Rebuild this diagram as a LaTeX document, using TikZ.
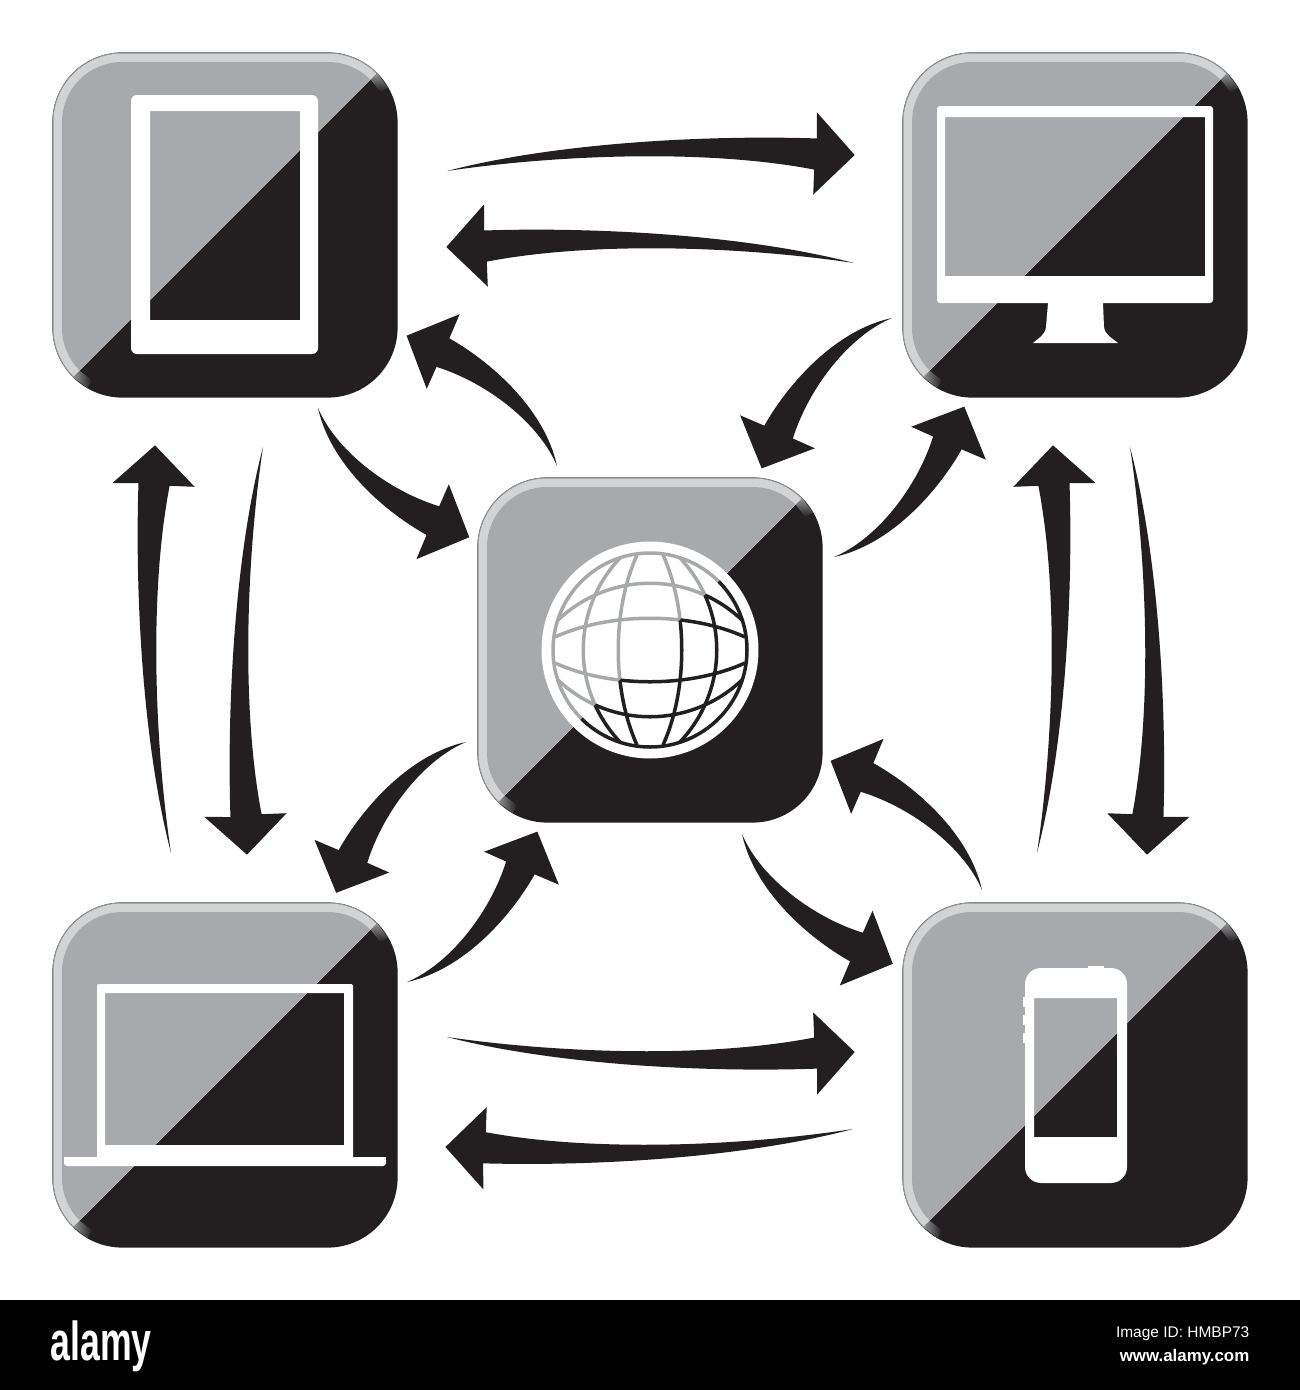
\documentclass[tikz,border=0pt]{standalone}
\usepackage{fontspec}
\setmainfont{Liberation Sans}
\usetikzlibrary{calc}
\definecolor{iconblack}{HTML}{231F20}
\definecolor{icongrey}{HTML}{A7A9AC}
\definecolor{iconrim}{HTML}{D1D3D4}
\definecolor{iconline}{HTML}{939598}
\tikzset{
	iconbox/.style={rectangle,rounded corners=0.7cm,minimum size=3.45cm,inner sep=0pt,outer sep=0pt,fill=iconblack,
		path picture={
			\begin{scope}[shift={(path picture bounding box.center)},sharp corners]
				\shade[top color=iconline,bottom color=iconblack] (145.6,-145.6)--(152,-152)--(163,-137.5)--(155.3,-133)--cycle;
				\shade[left color=iconline,right color=iconblack] (-145.6,145.6)--(-152,152)--(-137.5,163)--(-133,155.3)--cycle;
				\clip (-200,-200)--(200,-200)--(-200,200)--cycle;
				\fill[iconline] (-200,-200) rectangle (200,200);
				\fill[iconrim,rounded corners=0.69cm] (-171.5,-171.5) rectangle (171.5,171.5);
				\fill[icongrey,rounded corners=0.6cm] (-163,-163) rectangle (163,163);
			\end{scope}
		}},
	device/.style={fill=white,even odd rule},
	longswoosh/.pic={
		\fill[iconblack] (0,0) .. controls (110,24) and (260,26) .. (371,18) -- (372,44) -- (408,0) -- (365,-38) -- (367,-13) .. controls (260,12) and (110,12) .. cycle;
	},
	shortswoosh/.pic={
		\fill[iconblack] (0,0) .. controls (45,34) and (115,36) .. (165,26) -- (173,51) -- (199,0) -- (149,-27) -- (156,-4) .. controls (105,18) and (40,20) .. cycle;
	}
}
\newcommand{\swoosh}[6]{
	\coordinate (swooshfrom) at ($(#3)+(#4)$);
	\coordinate (swooshto) at ($(#5)+(#6)$);
	\path let \p1=($(swooshto)-(swooshfrom)$), \n1={atan2(\y1,\x1)} in
		pic[rotate=\n1,yscale=#2] at (swooshfrom) {#1};
}
\newcommand{\globegrid}{
	\draw (0,0) circle (97);
	\foreach \e/\f/\c in {13/95/38,30/92/79}{
		\foreach \s in {-1,1}{
			\draw (\s*\e,-\f) .. controls (\s*\c,-40) and (\s*\c,40) .. (\s*\e,\f);
			\draw (-\f,\s*\e) .. controls (-40,\s*\c) and (40,\s*\c) .. (\f,\s*\e);
		}
	}
}
\begin{document}
\begin{tikzpicture}[x=0.01cm,y=-0.01cm]
	\useasboundingbox (0,0) rectangle (1300,1390);
	\fill[white] (0,0) rectangle (1300,1300);
	\fill[black] (0,1300) rectangle (1300,1390);

	\node[iconbox] (tablet) at (225,225) {};
	\node[iconbox] (monitor) at (1075,225) {};
	\node[iconbox] (globe) at (650,650) {};
	\node[iconbox] (laptop) at (225,1075) {};
	\node[iconbox] (phone) at (1075,1075) {};

	\fill[device,rounded corners=0.06cm] (131,95) rectangle (318,354) (150,111) [sharp corners] rectangle (300,320);

	\fill[device,rounded corners=0.03cm] (937,106) rectangle (1213,303) (945,117) [sharp corners] rectangle (1205,276);
	\fill[white] (1048,303)--(1103,303)--(1104,327) .. controls (1105,335) and (1112,338) .. (1118,343)--(1033,343) .. controls (1039,338) and (1045,335) .. (1046,327)--cycle;

	\fill[device,rounded corners=0.16cm] (1025,968) rectangle (1127,1183) (1034,998) [sharp corners] rectangle (1117,1137);
	\fill[white] (1088,966) rectangle (1104,970);
	\foreach \b in {997,1015,1033}{
		\fill[white] (1023,\b) rectangle (1026,\b+10);
	}

	\fill[device,rounded corners=0.02cm] (97,984) rectangle (353,1160) (105,993) [sharp corners] rectangle (344,1145);
	\fill[white,rounded corners=0.03cm] (64,1157) rectangle (386,1166);
	\fill[white] (64,1157) rectangle (386,1162);

	\begin{scope}[shift={(globe)},line width=0.035cm]
		\fill[white] (0,0) circle (108.5);
		\begin{scope}
			\clip (-120,-120)--(120,-120)--(-120,120)--cycle;
			\begin{scope}[draw=icongrey]
				\globegrid
			\end{scope}
		\end{scope}
		\begin{scope}
			\clip (120,120)--(120,-120)--(-120,120)--cycle;
			\begin{scope}[draw=iconblack]
				\globegrid
			\end{scope}
		\end{scope}
	\end{scope}

	\swoosh{longswoosh}{-1}{tablet}{222,-54}{monitor}{-221,-70}
	\swoosh{longswoosh}{1}{monitor}{-221,38}{tablet}{221,22}
	\swoosh{longswoosh}{1}{laptop}{222,-38}{phone}{-220,-23}
	\swoosh{longswoosh}{-1}{phone}{-222,54}{laptop}{220,72}
	\swoosh{longswoosh}{-1}{laptop}{-54,-222}{tablet}{-70,220}
	\swoosh{longswoosh}{1}{tablet}{38,222}{laptop}{22,-221}
	\swoosh{longswoosh}{1}{phone}{-38,-222}{monitor}{-22,220}
	\swoosh{longswoosh}{-1}{monitor}{55,222}{phone}{72,-221}

	\swoosh{shortswoosh}{1}{tablet}{93,183}{globe}{-181,-113}
	\swoosh{shortswoosh}{1}{globe}{-93,-184}{tablet}{182,111}
	\swoosh{shortswoosh}{1}{monitor}{-183,93}{globe}{112,-182}
	\swoosh{shortswoosh}{1}{globe}{184,-93}{monitor}{-111,182}
	\swoosh{shortswoosh}{1}{globe}{-184,92}{laptop}{111,-182}
	\swoosh{shortswoosh}{1}{laptop}{182,-93}{globe}{-113,182}
	\swoosh{shortswoosh}{1}{phone}{-93,-185}{globe}{182,112}
	\swoosh{shortswoosh}{1}{globe}{92,184}{phone}{-182,-111}

	\node[white,font=\fontsize{15.6}{16}\selectfont\bfseries,transform shape,xscale=0.65,inner sep=0pt,anchor=base west] (logo) at (50,1360) {alamy};
	\node[white,font=\fontsize{4.4}{5}\selectfont,inner sep=0pt,anchor=base east] (imageid) at (1250,1337) {Image ID: HMBP73};
	\node[white,font=\fontsize{4.8}{5}\selectfont\bfseries,inner sep=0pt,anchor=base east] (website) at (1250,1361) {www.alamy.com};
\end{tikzpicture}
\end{document}
